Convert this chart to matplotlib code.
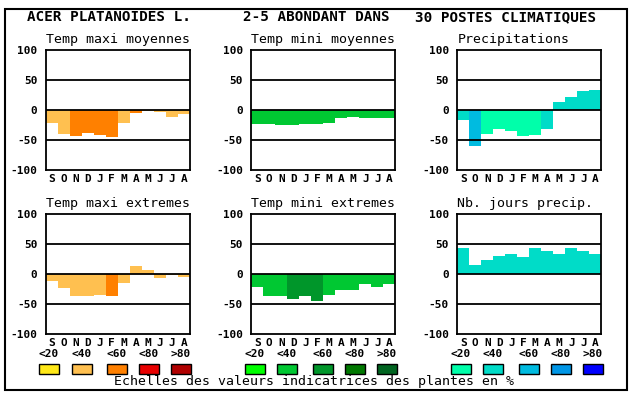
import matplotlib
matplotlib.use("Agg")
import matplotlib.pyplot as plt
from matplotlib.patches import Rectangle

W, H = 630, 394
months = ["S", "O", "N", "D", "J", "F", "M", "A", "M", "J", "J", "A"]
scale_labels = ["<20", "<40", "<60", "<80", ">80"]
header = ["ACER PLATANOIDES L.", "2-5 ABONDANT DANS", "30 POSTES CLIMATIQUES"]
footer = "Echelles des valeurs indicatrices des plantes en %"

orange_scale = ["#FFE818", "#FFC050", "#FF8000", "#E80000", "#B00000"]
green_scale = ["#00FF00", "#00C832", "#00962A", "#007800", "#006420"]
blue_scale = ["#00FFAA", "#00DCC8", "#00BBE0", "#0096E6", "#0000FF"]

titles = ["Temp maxi moyennes", "Temp mini moyennes", "Precipitations",
          "Temp maxi extremes", "Temp mini extremes", "Nb. jours precip."]

tmax_moy = [-21, -40, -44, -38, -42, -45, -22, -5.5, -2, -4, -12, -7]
tmax_moy_cls = [1, 1, 2, 2, 2, 2, 1, 2, 1, 1, 1, 1]
tmin_moy = [-24, -24, -25.5, -25.5, -24, -24, -22, -14, -12, -14, -14, -14]
tmin_moy_cls = [1] * 12
precip = [-17, -60.5, -40.5, -32, -35.5, -44, -42, -32, 14, 22, 32, 34]
precip_cls = [1, 2, 0, 0, 0, 0, 0, 1, 1, 1, 1, 1]
tmax_ext = [-10.5, -23, -37, -37, -34, -35.5, -14, 14, 7, -5.5, -2, -4]
tmax_ext_cls = [1, 1, 1, 1, 1, 2, 1, 1, 1, 1, 1, 1]
tmin_ext = [-22, -37, -35.5, -42, -35.5, -44, -34, -27, -25.5, -17, -22, -17]
tmin_ext_cls = [1, 1, 1, 2, 2, 2, 1, 1, 1, 1, 1, 1]
jours = [44, 15.5, 24.5, 31, 33, 28, 43, 38, 34.5, 44, 38, 34.5]
jours_cls = [1] * 12

panels = [
    (tmax_moy, tmax_moy_cls, orange_scale),
    (tmin_moy, tmin_moy_cls, green_scale),
    (precip, precip_cls, blue_scale),
    (tmax_ext, tmax_ext_cls, orange_scale),
    (tmin_ext, tmin_ext_cls, green_scale),
    (jours, jours_cls, blue_scale),
]

fig = plt.figure(figsize=(W / 100, H / 100), dpi=100)
fig.patch.set_facecolor("white")

def fx(x):
    return x / W

def fy(y):
    return 1 - y / H

# outer frame
fig.patches.append(Rectangle((fx(4.5), fy(390)), fx(622.5), (386 - 4.5) / H,
                             transform=fig.transFigure, fill=False,
                             edgecolor="black", linewidth=1.5))

mono = "DejaVu Sans Mono"
lefts = [45.7, 251.3, 457.3]
tops = [50, 214.3]
pw, ph = 144, 120

for i, (vals, cls, scale) in enumerate(panels):
    r, c = divmod(i, 3)
    x0, y0 = lefts[c], tops[r]
    ax = fig.add_axes([fx(x0), fy(y0 + ph), pw / W, ph / H])
    xs = list(range(len(vals)))
    ax.bar(xs, vals, width=1.0, align="edge",
           color=[scale[k] for k in cls], linewidth=0, zorder=1)
    for yv in (-50, 0, 50):
        ax.axhline(yv, color="black", linewidth=1.3, zorder=2)
    ax.set_xlim(0, 12)
    ax.set_ylim(-100, 100)
    ax.set_yticks([-100, -50, 0, 50, 100])
    ax.set_yticklabels(["-100", "-50", "0", "50", "100"],
                       fontfamily=mono, fontweight="bold", fontsize=8)
    ax.set_xticks([x + 0.5 for x in xs])
    ax.set_xticklabels(months, fontfamily=mono, fontweight="bold", fontsize=8)
    ax.tick_params(length=0, pad=3)
    ax.tick_params(axis="y", pad=6)
    for s in ax.spines.values():
        s.set_linewidth(1.3)
    ax.set_title(titles[i], fontfamily=mono, fontsize=9.5, pad=5, loc="left")

# header
fig.text(fx(27), fy(17), header[0], fontfamily=mono, fontweight="bold",
         fontsize=10.3, va="center", ha="left")
fig.text(fx(243), fy(17), header[1], fontfamily=mono, fontweight="bold",
         fontsize=10.3, va="center", ha="left")
fig.text(fx(415), fy(17), header[2], fontfamily=mono, fontweight="bold",
         fontsize=10.3, va="center", ha="left")

# legend scales
box_x = [
    [39, 72, 107, 139, 171],
    [245, 277, 313, 345, 377],
    [451, 483, 519, 551, 583],
]
scales = [orange_scale, green_scale, blue_scale]
for grp in range(3):
    for k in range(5):
        bx = box_x[grp][k]
        fig.patches.append(Rectangle((fx(bx), fy(373.5)), 20 / W, 9.5 / H,
                                     transform=fig.transFigure,
                                     facecolor=scales[grp][k],
                                     edgecolor="black", linewidth=1.0))
        fig.text(fx(bx + 10), fy(354), scale_labels[k], fontfamily=mono,
                 fontweight="bold", fontsize=8, ha="center", va="center")

fig.text(fx(314), fy(382), footer, fontfamily=mono, fontsize=9.5,
         ha="center", va="center")

fig.savefig("out.png", dpi=100, facecolor="white")
